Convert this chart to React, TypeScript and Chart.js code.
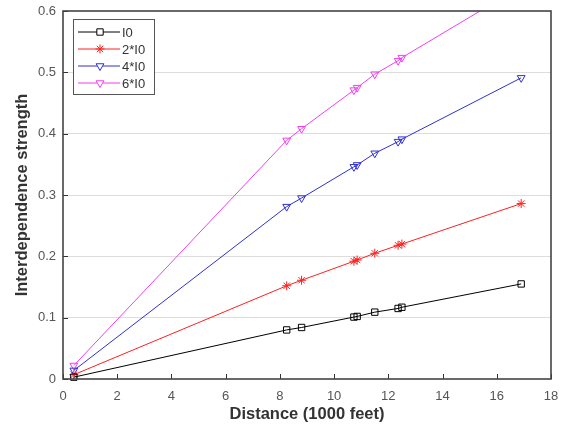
import React, { useEffect, useRef } from "react";
import { Chart, registerables } from "chart.js";
import { drawPoint } from "chart.js/helpers";

Chart.register(...registerables);

const distances = [0.4, 8.25, 8.8, 10.73, 10.85, 11.5, 12.36, 12.5, 16.9];
const seriesLabels = ["I0", "2*I0", "4*I0", "6*I0"];
const i0Values = [0.003, 0.08, 0.084, 0.101, 0.102, 0.109, 0.115, 0.117, 0.155];
const i0x2Values = [0.007, 0.152, 0.161, 0.192, 0.194, 0.205, 0.218, 0.22, 0.286];
const i0x4Values = [0.014, 0.281, 0.295, 0.346, 0.349, 0.368, 0.387, 0.391, 0.491];
const i0x6Values = [0.022, 0.389, 0.408, 0.471, 0.475, 0.497, 0.519, 0.524, 0.64];
const xTicks = [0, 2, 4, 6, 8, 10, 12, 14, 16, 18];
const yTicks = [0, 0.1, 0.2, 0.3, 0.4, 0.5, 0.6];

const colors = ["#000000", "#ff2020", "#3030d0", "#f040f0"];
const styles = ["rect", "star", "triangle", "triangle"];
const rotations = [0, 0, 180, 180];
const allValues = [i0Values, i0x2Values, i0x4Values, i0x6Values];

const FONT = "'Liberation Sans', Arial, sans-serif";

const frameAndLegend = {
  id: "frameAndLegend",
  afterDraw(chart: any) {
    const { ctx, chartArea: a } = chart;
    const xs = chart.scales.x;
    const ys = chart.scales.y;
    ctx.save();
    ctx.strokeStyle = "#333";
    ctx.lineWidth = 1;
    ctx.beginPath();
    xTicks.forEach((t) => {
      const px = Math.round(xs.getPixelForValue(t)) + 0.5;
      ctx.moveTo(px, a.bottom);
      ctx.lineTo(px, a.bottom - 5);
    });
    yTicks.forEach((t) => {
      const py = Math.round(ys.getPixelForValue(t)) + 0.5;
      ctx.moveTo(a.left, py);
      ctx.lineTo(a.left + 5, py);
    });
    ctx.stroke();
    ctx.strokeStyle = "#444";
    ctx.lineWidth = 1.6;
    ctx.strokeRect(a.left, a.top, a.right - a.left, a.bottom - a.top);
    // legend
    const bx = 73, by = 19, bw = 81, bh = 75;
    ctx.fillStyle = "#fff";
    ctx.fillRect(bx, by, bw, bh);
    ctx.strokeStyle = "#555";
    ctx.lineWidth = 1;
    ctx.strokeRect(bx + 0.5, by + 0.5, bw, bh);
    chart.data.datasets.forEach((ds: any, i: number) => {
      const y = by + 13 + i * 17;
      ctx.strokeStyle = ds.borderColor;
      ctx.lineWidth = 1;
      ctx.beginPath();
      ctx.moveTo(bx + 5, y);
      ctx.lineTo(bx + 47, y);
      ctx.stroke();
      ctx.fillStyle = "#ffffff";
      ctx.strokeStyle = ds.borderColor;
      ctx.lineWidth = 1;
      drawPoint(ctx, {
        pointStyle: ds.pointStyle,
        rotation: ds.pointRotation,
        radius: ds.pointRadius,
        borderWidth: 1,
      } as any, bx + 27, y);
      ctx.fillStyle = "#333";
      ctx.font = `13px ${FONT}`;
      ctx.textBaseline = "middle";
      ctx.textAlign = "left";
      ctx.fillText(ds.label, bx + 49, y + 1);
    });
    ctx.restore();
  },
};

export default function App() {
  const ref = useRef<HTMLCanvasElement>(null);
  useEffect(() => {
    document.body.style.margin = "0";
    const chart = new Chart(ref.current!, {
      type: "line",
      data: {
        datasets: seriesLabels.map((label, i) => ({
          label,
          data: distances.map((d, j) => ({ x: d, y: allValues[i][j] })),
          borderColor: colors[i],
          backgroundColor: "rgba(255,255,255,0)",
          borderWidth: 1,
          pointStyle: styles[i] as any,
          pointRotation: rotations[i],
          pointRadius: 4.5,
          pointBorderWidth: 1,
          pointBorderColor: colors[i],
          pointBackgroundColor: "rgba(255,255,255,0)",
          fill: false,
          tension: 0,
          clip: { left: 6, right: 6, top: 0, bottom: 6 } as any,
        })),
      },
      options: {
        animation: false,
        responsive: false,
        layout: { padding: { top: 11, right: 12, left: 13, bottom: 3 } },
        plugins: { legend: { display: false }, tooltip: { enabled: false } },
        scales: {
          x: {
            type: "linear",
            min: 0,
            max: 18,
            afterFit: (s: any) => {
              s.height = 45;
              s.paddingLeft = 0;
              s.paddingRight = 0;
            },
            afterBuildTicks: (s: any) => { s.ticks = xTicks.map((v) => ({ value: v })); },
            grid: { display: false, drawTicks: false },
            border: { display: false },
            ticks: { color: "#555", font: { family: FONT, size: 13 }, padding: 10 },
            title: {
              display: true,
              text: "Distance (1000 feet)",
              color: "#333",
              font: { family: FONT, size: 16.5, weight: "bold" },
              padding: { top: 0, bottom: 0 },
            },
          },
          y: {
            type: "linear",
            min: 0,
            max: 0.6,
            afterFit: (s: any) => {
              s.width = 50;
              s.paddingTop = 0;
              s.paddingBottom = 0;
            },
            afterBuildTicks: (s: any) => { s.ticks = yTicks.map((v) => ({ value: v })); },
            grid: {
              color: (c: any) => (c.tick && (c.tick.value === 0 || c.tick.value === 0.6) ? "rgba(0,0,0,0)" : "#dddddd"),
              drawTicks: false,
              lineWidth: 1,
            },
            border: { display: false },
            ticks: {
              color: "#555",
              font: { family: FONT, size: 13 },
              padding: 7,
              callback: (v: any) => String(Math.round(Number(v) * 10) / 10),
            },
            title: {
              display: true,
              text: "Interdependence strength",
              color: "#333",
              font: { family: FONT, size: 16.5, weight: "bold" },
              padding: { top: 0, bottom: 2 },
            },
          },
        },
      },
      plugins: [frameAndLegend],
    });
    return () => chart.destroy();
  }, []);
  return <canvas ref={ref} width={563} height={427} style={{ display: "block" }} />;
}
